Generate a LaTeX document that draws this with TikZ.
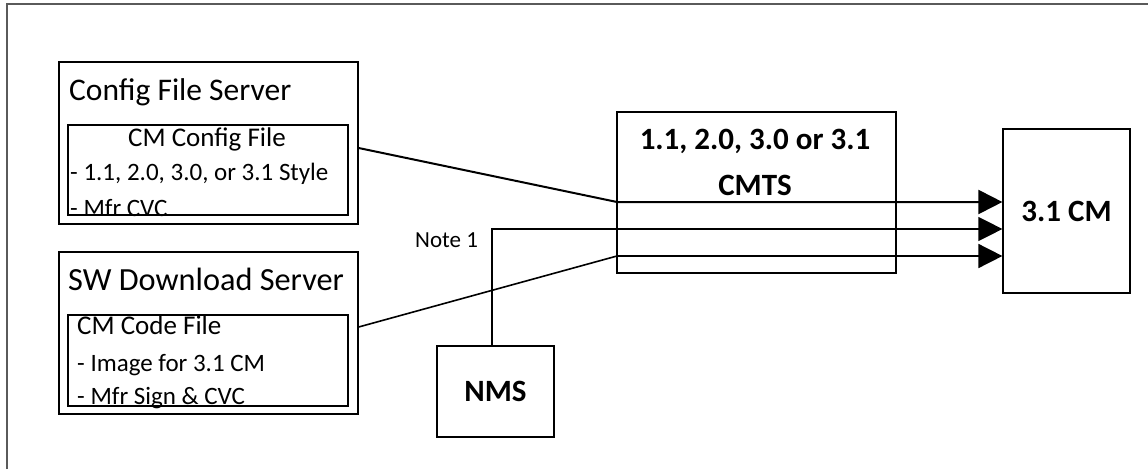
\documentclass[tikz,border=0pt]{standalone}
\usepackage{fontspec}
\setmainfont{Carlito}
\usetikzlibrary{arrows.meta}
\begin{document}
\begin{tikzpicture}[x=1pt,y=-1pt,
  box/.style={draw, rectangle, line width=1.3pt, inner sep=0pt},
  inbox/.style={draw, rectangle, line width=1.1pt, inner sep=0pt},
  lbl/.style={inner sep=0pt, font=\fontsize{25}{29}\selectfont},
  sub/.style={inner sep=0pt, font=\fontsize{27}{31}\selectfont},
  ttl/.style={inner sep=0pt, font=\fontsize{31.5}{36}\selectfont},
  bld/.style={font=\fontsize{31}{36}\selectfont\bfseries},
  arr/.style={-{Triangle[length=24pt,width=24pt]}}
]
\useasboundingbox (0,0) rectangle (1148,469);
\draw[draw={rgb,255:red,90;green,90;blue,90}, line width=1.5pt] (7,469) -- (7,4) -- (1148,4);

% Config File Server
\node[box, minimum width=299pt, minimum height=162pt] (cfs) at (208.5,143) {};
\node[inbox, minimum width=280pt, minimum height=90pt] (cfi) at (208,170) {};
\node[ttl, anchor=base west] (cfst) at (69,100) {Config File Server};
\node[sub, anchor=base] (cfi1) at (207,146) {CM Config File};
\node[lbl, anchor=base west] (cfi2) at (70,180) {- 1.1, 2.0, 3.0, or 3.1 Style};
\node[lbl, anchor=base west] (cfi3) at (70,216) {- Mfr CVC};

% SW Download Server
\node[box, minimum width=299pt, minimum height=162pt] (sws) at (208.5,333) {};
\node[inbox, minimum width=280pt, minimum height=91pt] (swi) at (208,360.5) {};
\node[ttl, font=\fontsize{32.3}{37}\selectfont, anchor=base west] (swst) at (68,290) {SW Download Server};
\node[sub, anchor=base west] (swi1) at (77,334) {CM Code File};
\node[lbl, anchor=base west] (swi2) at (77,371) {- Image for 3.1 CM};
\node[lbl, anchor=base west] (swi3) at (77,404) {- Mfr Sign \& CVC};

% CMTS
\node[box, line width=1.2pt, minimum width=279pt, minimum height=161pt] (cmts) at (756.5,192.5) {};
\node[bld, inner sep=0pt, anchor=base] (cmts1) at (755,149) {1.1, 2.0, 3.0 or 3.1};
\node[bld, inner sep=0pt, anchor=base] (cmts2) at (755,195) {CMTS};

% CM
\node[box, line width=1.2pt, minimum width=127pt, minimum height=164pt, bld] (cm) at (1066.5,211) {3.1 CM};

% NMS
\node[box, line width=1.2pt, minimum width=117pt, minimum height=91pt, bld] (nms) at (495.5,391.5) {NMS};
\node[lbl, font=\fontsize{23}{27}\selectfont, anchor=base west] (note) at (415,247) {Note 1};

% connectors
\coordinate (p1) at (617,202);
\coordinate (k) at (492,229);
\coordinate (p3) at (617,256);
\draw[line width=2pt, arr] ([yshift=-5pt]cfs.east) -- (p1) -- (p1 -| cm.west);
\draw[line width=1.2pt, arr] (nms.north -| k) -- (k) -- (k -| cm.west);
\draw[line width=1.6pt, arr] ([yshift=6pt]sws.east) -- (p3) -- (p3 -| cm.west);
\end{tikzpicture}
\end{document}
